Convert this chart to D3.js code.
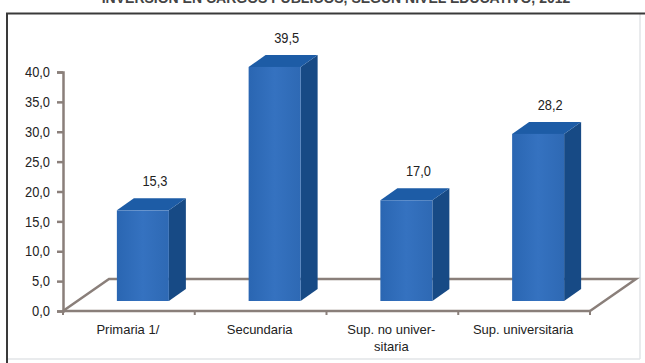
<!DOCTYPE html>
<html><head><meta charset="utf-8">
<script src="https://cdn.jsdelivr.net/npm/d3@7/dist/d3.min.js"></script>
<style>html,body{margin:0;padding:0;background:#fff}svg{display:block}text{font-family:"Liberation Sans",Arial,sans-serif;fill:#222}</style>
</head><body><div id="c"></div>
<script>
const categories = ["Primaria 1/", "Secundaria", "Sup. no univer-|sitaria", "Sup. universitaria"];
const values = [15.3, 39.5, 17.0, 28.2];
const yTicks = [0, 5, 10, 15, 20, 25, 30, 35, 40];
const title = "INVERSIÓN EN CARGOS PÚBLICOS, SEGÚN NIVEL EDUCATIVO, 2012";

const fmt = v => v.toFixed(1).replace(".", ",");
const W = 645, H = 363;
const svg = d3.select("#c").append("svg").attr("width", W).attr("height", H).attr("viewBox", `0 0 ${W} ${H}`);

const defs = svg.append("defs");
const grad = defs.append("linearGradient").attr("id", "front");
grad.append("stop").attr("offset", "0%").attr("stop-color", "#2a66b2");
grad.append("stop").attr("offset", "50%").attr("stop-color", "#3572c0");
grad.append("stop").attr("offset", "100%").attr("stop-color", "#2e69b4");

// title, cropped by the top edge as in the source scan
svg.append("text").attr("x", 336).attr("y", 3).attr("text-anchor", "middle")
  .attr("font-size", 14).attr("font-weight", 700).style("fill", "#444").text(title);

// frame
svg.append("path").attr("d", `M${W-5},14V359M7,359H${W-5}`).attr("fill", "none").attr("stroke", "#e2e5e8").attr("stroke-width", 1.5);
svg.append("path").attr("d", `M7,${H}V13.5H${W}`).attr("fill", "none").attr("stroke", "#3a3a3a").attr("stroke-width", 2);

const x = d3.scaleBand().domain(categories).range([63, 590]);
const y = d3.scaleLinear().domain([0, 40]).range([311, 72]);
// bar heights sit on the raised floor of the 3D plot
const yBar = d3.scaleLinear().domain([0, 40]).range([301, 64]);
const barW = 52, dx = 17, dy = -12, floor = {dx: 46, dy: -32};

const axisColor = "#8a7f7a";
// floor
svg.append("path")
  .attr("d", `M${x.range()[0]},${y(0)}L${x.range()[0] + floor.dx},${y(0) + floor.dy}H${x.range()[1] + floor.dx}L${x.range()[1]},${y(0)}`)
  .attr("fill", "none").attr("stroke", axisColor).attr("stroke-width", 2.5);

// axes
const gy = svg.append("g").attr("transform", "translate(63,0)")
  .call(d3.axisLeft(y).tickValues(yTicks).tickFormat(fmt).tickSize(6).tickPadding(7));
const gx = svg.append("g").attr("transform", `translate(0,${y(0)})`)
  .call(d3.axisBottom(x).tickValues([]).tickSizeOuter(0));
[gy, gx].forEach(g => { g.selectAll("path,line").attr("stroke", axisColor).attr("stroke-width", 2.5); });
gy.selectAll("text").attr("font-size", 14.5)
  .attr("textLength", d => d < 10 ? 18 : 25).attr("lengthAdjust", "spacingAndGlyphs").style("fill", "#222");
gx.select(".domain").attr("d", `M63,0H590`);
gx.selectAll(".b").data([...categories.map(c => x(c)), 590]).enter().append("line")
  .attr("x1", d => d).attr("x2", d => d).attr("y1", 0).attr("y2", 4)
  .attr("stroke", axisColor).attr("stroke-width", 2);

// category labels
const lab = svg.append("g");
categories.forEach(c => {
  const t = lab.append("text").attr("text-anchor", "middle").attr("font-size", 13).attr("y", 334);
  c.split("|").forEach((s, i) => t.append("tspan").attr("x", x(c) + x.bandwidth() / 2 - 1).attr("dy", i ? 17 : 0).text(s));
});

// bars
const bars = svg.append("g").selectAll("g").data(categories.map((c, i) => ({c, v: values[i]}))).enter().append("g");
const bx = d => x(d.c) + (x.bandwidth() - barW) / 2 + 14;
bars.append("path").attr("fill", "#174a85")
  .attr("d", d => `M${bx(d)+barW},${yBar(d.v)}l${dx},${dy}V${yBar(0)+dy}l${-dx},${-dy}Z`);
bars.append("path").attr("fill", "#1d5ca6")
  .attr("d", d => `M${bx(d)},${yBar(d.v)}l${dx},${dy}h${barW}l${-dx},${-dy}Z`);
bars.append("rect").attr("fill", "url(#front)")
  .attr("x", bx).attr("y", d => yBar(d.v)).attr("width", barW).attr("height", d => yBar(0) - yBar(d.v));
bars.append("text").attr("text-anchor", "middle").attr("font-size", 14.5)
  .attr("textLength", 25).attr("lengthAdjust", "spacingAndGlyphs")
  .attr("x", d => bx(d) + barW / 2 + 12).attr("y", d => yBar(d.v) + dy - 12).text(d => fmt(d.v));
</script></body></html>
